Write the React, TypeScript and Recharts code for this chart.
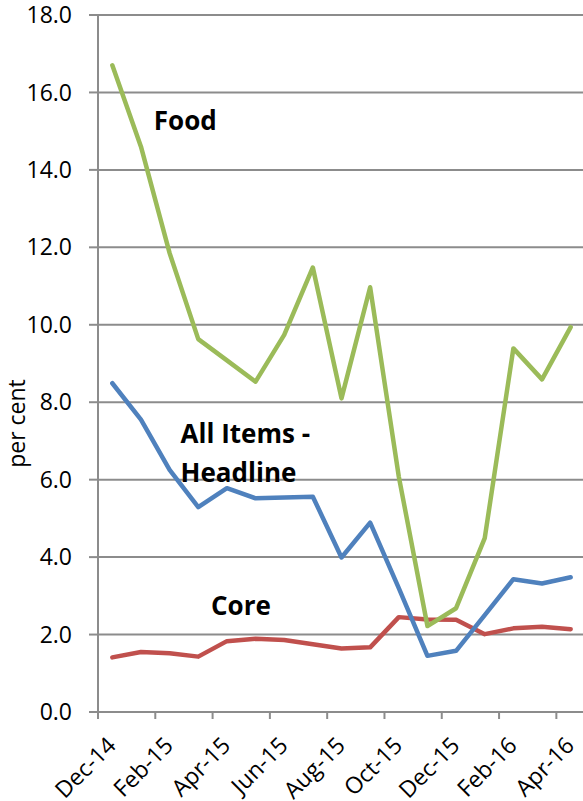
import React from 'react';
import {
  LineChart,
  Line,
  XAxis,
  YAxis,
  CartesianGrid,
  ReferenceDot,
  Customized,
} from 'recharts';

const months = [
  'Dec-14', 'Jan-15', 'Feb-15', 'Mar-15', 'Apr-15', 'May-15', 'Jun-15', 'Jul-15', 'Aug-15',
  'Sep-15', 'Oct-15', 'Nov-15', 'Dec-15', 'Jan-16', 'Feb-16', 'Mar-16', 'Apr-16',
];
const headline = [8.49, 7.55, 6.25, 5.29, 5.78, 5.52, 5.54, 5.56, 3.99, 4.89, 3.2, 1.45, 1.58, 2.5, 3.43, 3.32, 3.48];
const food = [16.7, 14.6, 11.85, 9.63, 9.08, 8.53, 9.74, 11.48, 8.1, 10.97, 6.08, 2.22, 2.68, 4.49, 9.39, 8.59, 9.94];
const core = [1.41, 1.55, 1.52, 1.43, 1.83, 1.89, 1.86, 1.75, 1.64, 1.67, 2.45, 2.39, 2.38, 2.01, 2.16, 2.2, 2.14];
const yTicks = [0, 2, 4, 6, 8, 10, 12, 14, 16, 18];

const data = months.map((month, i) => ({
  month,
  headline: headline[i],
  food: food[i],
  core: core[i],
}));

const CHART_W = 586;
const CHART_H = 801;
const AXIS_W = 98;
const X_AXIS_H = 89;
const MARGIN = { top: 15, right: 1, bottom: 0, left: 0 };
const PLOT_H = CHART_H - MARGIN.top - X_AXIS_H;
// category slots: points sit in the middle, tick marks on the slot edges
const HALF = (CHART_W - AXIS_W - MARGIN.right) / months.length / 2;

const FONT_SIZE = 23;
const GRID = '#8c8c8c';
const BLUE = '#4f81bd';
const GREEN = '#9bbb59';
const RED = '#c0504d';

const MonthTick = (props: any) => {
  const { x, y, payload } = props;
  const tx = x + 5;
  const ty = y + 35;
  return (
    <g>
      <line x1={x - HALF} x2={x - HALF} y1={y} y2={y + 7} stroke={GRID} strokeWidth={2} />
      <text
        x={tx}
        y={ty}
        transform={`rotate(-45 ${tx} ${ty})`}
        textAnchor="end"
        fontSize={FONT_SIZE}
        fill="#000"
      >
        {payload.value}
      </text>
    </g>
  );
};

// y-axis title, sitting a little below the middle of the axis
const PerCent = () => {
  const lx = 25;
  const ly = MARGIN.top + PLOT_H / 2 + 60;
  return (
    <text
      x={lx}
      y={ly}
      transform={`rotate(-90 ${lx} ${ly})`}
      textAnchor="middle"
      fontSize={FONT_SIZE}
      fill="#000"
    >
      per cent
    </text>
  );
};

const seriesLabel = (value: string, dx: number, anchored = false) => ({
  value,
  position: anchored ? ('right' as const) : ('center' as const),
  offset: 0,
  dx,
  fontSize: 26,
  fontWeight: 700,
  fill: '#000',
});

export default function App() {
  return (
    <div
      style={{
        position: 'absolute',
        left: 0,
        top: 0,
        width: 583,
        height: CHART_H,
        overflow: 'hidden',
        background: '#fff',
        fontFamily: '"Open Sans", "Noto Sans", sans-serif',
      }}
    >
      <LineChart width={CHART_W} height={CHART_H} data={data} margin={MARGIN}>
        <CartesianGrid vertical={false} stroke={GRID} strokeWidth={2} />
        <XAxis
          dataKey="month"
          height={X_AXIS_H}
          interval={1}
          tickLine={false}
          tickSize={0}
          tickMargin={0}
          padding={{ left: HALF, right: HALF }}
          axisLine={{ stroke: GRID, strokeWidth: 2 }}
          tick={<MonthTick />}
        />
        <YAxis
          width={AXIS_W}
          domain={[0, 18]}
          ticks={yTicks}
          interval={0}
          tickFormatter={(v: number) => v.toFixed(1)}
          tickSize={9}
          tickMargin={17}
          axisLine={{ stroke: GRID, strokeWidth: 2 }}
          tickLine={{ stroke: GRID, strokeWidth: 2 }}
          tick={{ fontSize: FONT_SIZE, fill: '#000' }}
        />
        <Customized component={PerCent} />
        <Line
          type="linear"
          dataKey="core"
          stroke={RED}
          strokeWidth={4.5}
          strokeLinecap="round"
          strokeLinejoin="round"
          dot={false}
          isAnimationActive={false}
        />
        <Line
          type="linear"
          dataKey="headline"
          stroke={BLUE}
          strokeWidth={4.5}
          strokeLinecap="round"
          strokeLinejoin="round"
          dot={false}
          isAnimationActive={false}
        />
        <Line
          type="linear"
          dataKey="food"
          stroke={GREEN}
          strokeWidth={4.5}
          strokeLinecap="round"
          strokeLinejoin="round"
          dot={false}
          isAnimationActive={false}
        />
        <ReferenceDot x="Mar-15" y={15.26} r={0} fill="none" stroke="none" label={seriesLabel('Food', -13)} />
        <ReferenceDot x="Feb-15" y={7.18} r={0} fill="none" stroke="none" label={seriesLabel('All Items -', 11, true)} />
        <ReferenceDot x="Feb-15" y={6.17} r={0} fill="none" stroke="none" label={seriesLabel('Headline', 11, true)} />
        <ReferenceDot x="Apr-15" y={2.75} r={0} fill="none" stroke="none" label={seriesLabel('Core', 14)} />
      </LineChart>
    </div>
  );
}
